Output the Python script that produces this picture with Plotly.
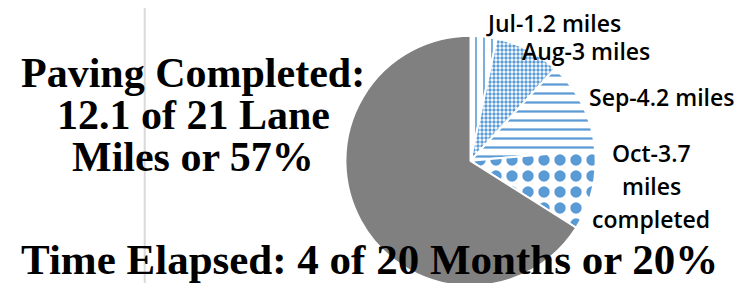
import plotly.graph_objects as go

months = ["Jul", "Aug", "Sep", "Oct", "Remaining"]
miles = [1.2, 3, 4.2, 3.7, 23.5]
label_text = ["Jul-1.2 miles", "Aug-3 miles", "Sep-4.2 miles", "Oct-3.7<br>miles<br>completed"]
title_left_lines = ["Paving Completed:", "12.1 of 21 Lane", "Miles or 57%"]
title_bottom = "Time Elapsed: 4 of 20 Months or 20%"

BLUE = "#5B9BD5"
GRAY = "#808080"

fig = go.Figure()
fig.add_trace(go.Pie(
    labels=months,
    values=miles,
    sort=False,
    direction="clockwise",
    rotation=0,
    textinfo="none",
    hoverinfo="label+value",
    showlegend=False,
    domain=dict(x=[0.454, 0.791], y=[0.018, 0.902]),
    marker=dict(
        colors=["white", "white", "white", "white", GRAY],
        line=dict(color="white", width=2),
        pattern=dict(
            shape=["|", ".", "-", ".", ""],
            fgcolor=[BLUE, BLUE, BLUE, BLUE, GRAY],
            bgcolor=["white", "white", "white", "white", GRAY],
            fgopacity=1,
            size=[8, 4, 9, 16, 8],
            solidity=[0.2, 0.55, 0.25, 0.4, 0.3],
            fillmode="overlay",
        ),
    ),
))

# label anchor positions (px from top-left); multi-line labels get one line per row
label_pos = [(545, 15), (578, 43), (653, 89), (643, 145)]
LINE_GAP = 33
for txt, (px, py) in zip(label_text, label_pos):
    for i, part in enumerate(txt.split("<br>")):
        fig.add_annotation(
            x=px / 743, y=1 - (py + i * LINE_GAP) / 283, xref="paper", yref="paper",
            text=part, showarrow=False, xanchor="center", yanchor="middle",
            borderpad=0,
            font=dict(family="Open Sans", size=23, color="black", weight=600),
        )

left_y = [65, 107, 149]
for line, py in zip(title_left_lines, left_y):
    fig.add_annotation(
        x=185 / 743, y=1 - py / 283, xref="paper", yref="paper",
        text="<b>" + line + "</b>", showarrow=False,
        xanchor="center", yanchor="middle",
        font=dict(family="Liberation Serif", size=42, color="black"),
    )
fig.add_annotation(
    x=361 / 743, y=1 - 251 / 283, xref="paper", yref="paper",
    text="<b>" + title_bottom + "</b>", showarrow=False,
    xanchor="center", yanchor="middle", borderpad=0,
    font=dict(family="Liberation Serif", size=43, color="black"),
)

fig.add_shape(type="line", xref="paper", yref="paper",
              x0=136.7 / 743, x1=136.7 / 743, y0=0, y1=1,
              line=dict(color="#d9d9d9", width=2), layer="below")

fig.update_layout(
    width=743, height=283,
    margin=dict(l=0, r=0, t=0, b=0),
    paper_bgcolor="white", plot_bgcolor="white",
)

fig.write_html("out.html")
